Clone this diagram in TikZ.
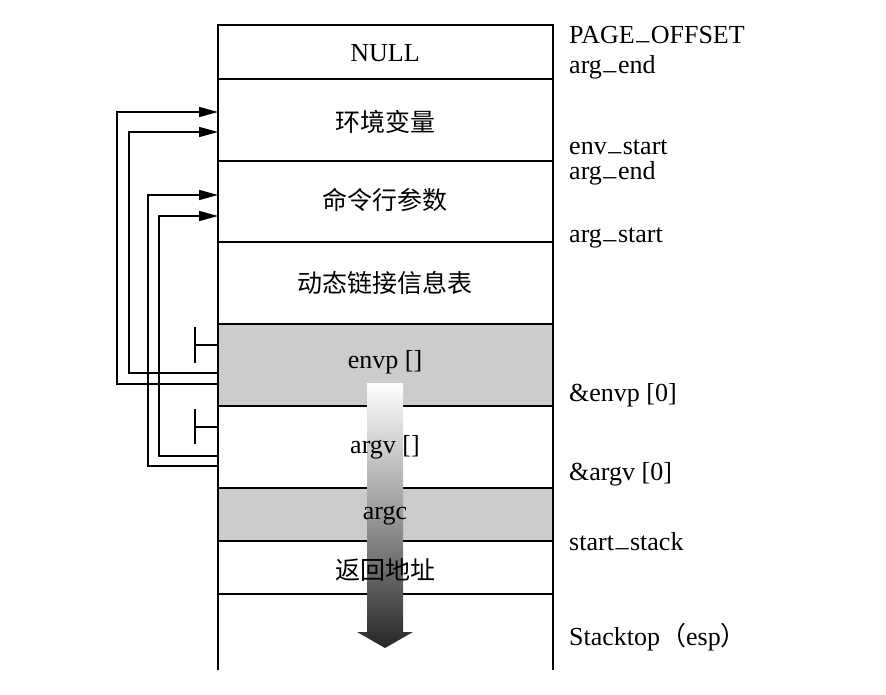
\documentclass[tikz,border=0pt]{standalone}
\usepackage{fontspec}
\setmainfont{Liberation Serif}
\newfontfamily\cjk{Noto Sans CJK SC}
\usetikzlibrary{arrows.meta}
\newcommand{\usc}{\kern0.06em\raisebox{0.13em}{\_}\kern0.06em}
\definecolor{rowgray}{RGB}{204,204,204}
\tikzset{
  txt/.style={font=\fontsize{26}{31}\selectfont, inner sep=0pt},
  midtxt/.style={txt, anchor=base},
  cjktxt/.style={txt, font=\fontsize{25}{30}\selectfont\cjk},
  lbl/.style={txt, anchor=base west},
  frame/.style={line width=1.5pt},
  ptr/.style={line width=1.5pt, -{Triangle[length=19pt,width=10pt]}},
  tee/.style={line width=1.5pt},
  grayrow/.style={fill=rowgray, draw=none},
}
\begin{document}
\begin{tikzpicture}[x=1pt,y=-1pt]
\useasboundingbox (0,0) rectangle (886,694);
% gray rows
\fill[grayrow] (218,324) rectangle (553,406);
\fill[grayrow] (218,488) rectangle (553,541);
% frame
\draw[frame] (218,670) -- (218,25) -- (553,25) -- (553,670);
\foreach \yy in {79,161,242,324,406,488,541,594}
  \draw[frame] (218,\yy) -- (553,\yy);
% pointer end points
\coordinate (envpA) at (218,384);
\coordinate (envpB) at (218,373);
\coordinate (argvA) at (218,466);
\coordinate (argvB) at (218,456);
\coordinate (envA) at (218,112);
\coordinate (envB) at (218,132);
\coordinate (argA) at (218,195);
\coordinate (argB) at (218,216);
\draw[ptr] (envpA) -| (117,112) -- (envA);
\draw[ptr] (envpB) -| (129,132) -- (envB);
\draw[ptr] (argvA) -| (148,195) -- (argA);
\draw[ptr] (argvB) -| (159,216) -- (argB);
% tee marks
\coordinate (teeA) at (218,345);
\coordinate (teeB) at (218,427);
\draw[tee] (teeA) -- (195,345);
\draw[tee] (195,327) -- (195,363);
\draw[tee] (teeB) -- (195,427);
\draw[tee] (195,409) -- (195,444);
% growth arrow
\shade[top color=white, bottom color=black!85, middle color=black!40]
  (367,383) -- (403,383) -- (403,632) -- (413,632) -- (385,648)
  -- (357,632) -- (367,632) -- cycle;
% centre texts
\node[midtxt] (tnull) at (385,61) {NULL};
\node[cjktxt] (tenv) at (385,122) {环境变量};
\node[cjktxt] (targs) at (385,200) {命令行参数};
\node[cjktxt] (tdyn) at (385,283) {动态链接信息表};
\node[midtxt] (tenvp) at (385,368) {envp []};
\node[midtxt] (targv) at (385,453) {argv []};
\node[midtxt] (targc) at (385,519) {argc};
\node[cjktxt] (tret) at (385,570) {返回地址};
% right labels
\node[lbl] (l1) at (569,43) {PAGE\usc OFFSET};
\node[lbl] (l2) at (569,73) {arg\usc end};
\node[lbl] (l3) at (569,154) {env\usc start};
\node[lbl] (l4) at (569,179) {arg\usc end};
\node[lbl] (l5) at (569,242) {arg\usc start};
\node[lbl] (l6) at (569,401) {\&envp [0]};
\node[lbl] (l7) at (569,480) {\&argv [0]};
\node[lbl] (l8) at (569,550) {start\usc stack};
\node[lbl] (l9) at (569,645) {Stacktop{\cjk （}esp{\cjk ）}};
\end{tikzpicture}
\end{document}
